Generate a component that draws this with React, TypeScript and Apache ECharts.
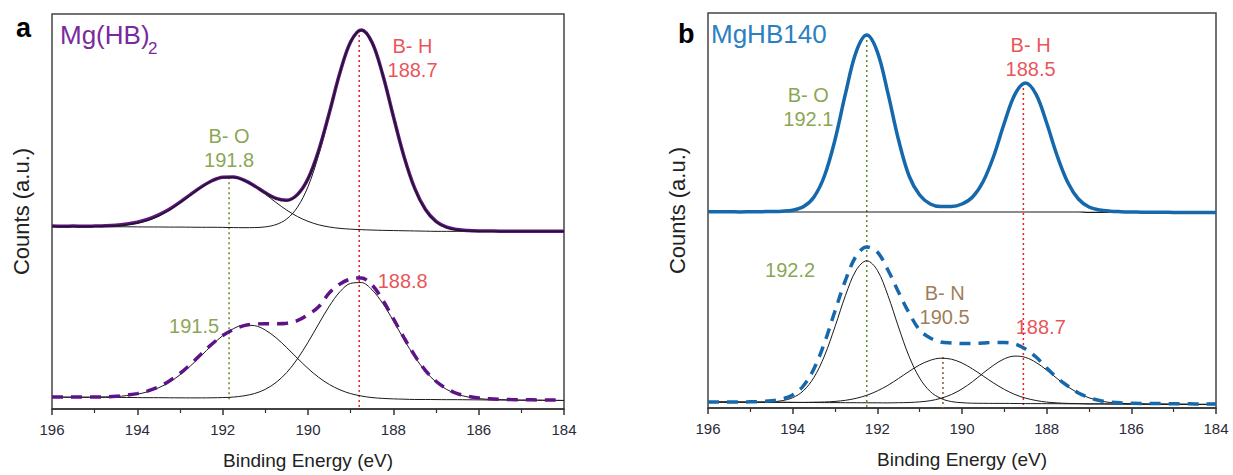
import React, { useEffect, useRef } from "react";
import * as echarts from "echarts";

const FONT = '"Liberation Sans", Arial, Helvetica, sans-serif';

// Binding energy sampling (eV), shared by all spectra
const energy = [196, 195.75, 195.5, 195.25, 195, 194.75, 194.5, 194.25, 194, 193.75, 193.5, 193.25, 193, 192.75, 192.5, 192.25, 192, 191.75, 191.5, 191.25, 191, 190.75, 190.5, 190.25, 190, 189.75, 189.5, 189.25, 189, 188.75, 188.5, 188.25, 188, 187.75, 187.5, 187.25, 187, 186.75, 186.5, 186.25, 186, 185.75, 185.5, 185.25, 185, 184.75, 184.5, 184.25, 184];
const xTicks = [196, 194, 192, 190, 188, 186, 184];

// ---- Panel a: Mg(HB)2 upper spectrum (offset) ----
const aUpBase = [184, 183.9, 183.9, 183.8, 183.8, 183.7, 183.6, 183.6, 183.5, 183.4, 183.4, 183.3, 183.3, 183.2, 183.1, 183.1, 183, 182.8, 182.6, 182.4, 182.2, 182, 181.8, 181.6, 181.4, 181.2, 181, 180.8, 180.6, 180.4, 180.2, 180, 179.8, 179.6, 179.4, 179.2, 179, 179, 179, 179, 179, 179, 179, 179, 179, 179, 179, 179, 179];
const aUpBO = [0, 0, 0, 0.1, 0.2, 0.5, 1.0, 2.1, 3.9, 6.9, 11.3, 17.2, 24.5, 32.6, 40.4, 46.7, 50.4, 50.7, 47.6, 41.8, 34.2, 26.1, 18.6, 12.4, 7.7, 4.4, 2.4, 1.2, 0.6, 0.3, 0.1, 0, 0, 0, 0, 0, 0, 0, 0, 0, 0, 0, 0, 0, 0, 0, 0, 0, 0];
const aUpBH = [0, 0, 0, 0, 0, 0, 0, 0, 0, 0, 0, 0, 0, 0, 0, 0, 0, 0, 0.1, 0.4, 1.3, 3.8, 9.6, 21.6, 42.6, 74.6, 115, 156.9, 188.9, 201, 188.9, 156.9, 115, 74.6, 42.6, 21.6, 9.6, 3.8, 1.3, 0.4, 0.1, 0, 0, 0, 0, 0, 0, 0, 0];
const aUpRaw = [184.5, 184.2, 184.3, 184.1, 184.3, 184.6, 185.2, 186.4, 188.2, 191.2, 195.6, 201.2, 208.4, 216.2, 223.8, 230.0, 233.6, 233.8, 230.6, 224.8, 217.8, 212.2, 210.4, 216.0, 232.0, 260.5, 298.5, 339.0, 370.0, 382.0, 369.5, 337.0, 295.0, 254.5, 222.5, 201.2, 189.0, 183.2, 180.8, 179.8, 179.4, 179.3, 179.2, 179.2, 179.1, 179.1, 179.0, 179.0, 179.0];

// ---- Panel a: lower spectrum ----
const aLoBase = [12, 11.9, 11.9, 11.8, 11.75, 11.7, 11.6, 11.6, 11.5, 11.4, 11.4, 11.3, 11.25, 11.2, 11.1, 11.1, 11, 10.9, 10.9, 10.8, 10.75, 10.7, 10.6, 10.6, 10.5, 10.4, 10.3, 10.2, 10.1, 10, 9.9, 9.9, 9.8, 9.7, 9.6, 9.6, 9.5, 9.4, 9.4, 9.3, 9.2, 9.1, 9.1, 9.0, 8.9, 8.9, 8.8, 8.7, 8.6];
const aLoBO = [0, 0, 0, 0.1, 0.2, 0.5, 0.9, 1.9, 3.4, 6.1, 10.0, 15.7, 23.2, 32.4, 42.7, 53.3, 62.9, 70.0, 73.6, 73.2, 68.8, 61.1, 51.3, 40.6, 30.4, 21.5, 14.4, 9.1, 5.4, 3.1, 1.6, 0.8, 0.4, 0.2, 0, 0, 0, 0, 0, 0, 0, 0, 0, 0, 0, 0, 0, 0, 0];
const aLoBH = [0, 0, 0, 0, 0, 0, 0, 0, 0, 0, 0, 0, 0, 0, 0.1, 0.2, 0.5, 1.1, 2.4, 4.8, 9.1, 16.0, 26.1, 39.8, 56.7, 75.3, 93.4, 108, 116.5, 117.4, 110.2, 96.6, 79.1, 60.4, 43, 28.6, 17.7, 10.3, 5.5, 2.8, 1.3, 0.6, 0.3, 0.1, 0, 0, 0, 0, 0];
const aLoRaw = [12.2, 12.1, 12.0, 12.0, 12.1, 12.3, 12.8, 14.0, 15.5, 18.3, 22.3, 28.2, 35.8, 45.2, 55.5, 65.5, 74.0, 80.0, 84.0, 85.5, 86.0, 86.0, 86.5, 89.0, 95.0, 103.0, 117.0, 126.0, 131.0, 132.0, 125.0, 110.0, 91.0, 72.0, 54.0, 39.0, 28.0, 20.5, 15.5, 12.8, 11.2, 10.3, 9.8, 9.5, 9.3, 9.2, 9.1, 9.0, 9.0];

// ---- Panel b: MgHB140 upper spectrum ----
const bUpBase = [196, 196, 196, 196, 196, 196, 196, 196, 196, 196, 196, 196, 196, 196, 196, 196, 196, 196, 196, 196, 196, 196, 196, 196, 196, 196, 196, 196, 196, 196, 196, 196, 196, 196, 196, 196, 195.6, 195.6, 195.6, 195.6, 195.6, 195.6, 195.6, 195.6, 195.6, 195.6, 195.6, 195.6, 195.6];
const bUpRaw = [196.3, 196.2, 196.3, 196.1, 196.2, 196.3, 196.5, 196.8, 197.8, 201.2, 210.8, 232.0, 268.2, 314.8, 356.2, 373.0, 356.2, 314.8, 268.2, 232.0, 213.0, 204.0, 201.5, 201.5, 204.0, 211.0, 226.5, 252.0, 285.0, 313.6, 325.0, 313.6, 285.0, 252.0, 225.5, 209.0, 201.0, 198.0, 196.8, 196.3, 196.0, 195.8, 195.7, 195.7, 195.6, 195.6, 195.6, 195.6, 195.6];

// ---- Panel b: lower spectrum ----
const bLoBase = [6.0, 6.0, 5.9, 5.9, 5.8, 5.8, 5.7, 5.7, 5.6, 5.5, 5.5, 5.4, 5.4, 5.3, 5.3, 5.2, 5.2, 5.1, 5.1, 5.0, 5.0, 4.9, 4.9, 4.8, 4.8, 4.7, 4.7, 4.6, 4.6, 4.5, 4.4, 4.4, 4.3, 4.3, 4.2, 4.2, 4.1, 4.1, 4.0, 4.0, 3.9, 3.9, 3.8, 3.8, 3.7, 3.7, 3.6, 3.6, 3.5];
const bLoBO = [0, 0, 0, 0, 0, 0.1, 0.5, 1.6, 4.7, 11.6, 24.9, 46.6, 75.9, 107.5, 132.5, 142, 132.5, 107.5, 75.9, 46.6, 24.9, 11.6, 4.7, 1.6, 0.5, 0.1, 0, 0, 0, 0, 0, 0, 0, 0, 0, 0, 0, 0, 0, 0, 0, 0, 0, 0, 0, 0, 0, 0, 0];
const bLoBN = [0, 0, 0, 0, 0, 0, 0, 0, 0, 0.1, 0.3, 0.6, 1.2, 2.4, 4.4, 7.5, 11.9, 17.6, 24.4, 31.6, 38.1, 42.8, 44.9, 44.0, 40.2, 34.3, 27.3, 20.3, 14.0, 9.0, 5.5, 3.1, 1.6, 0.8, 0.4, 0.2, 0, 0, 0, 0, 0, 0, 0, 0, 0, 0, 0, 0, 0];
const bLoBH = [0, 0, 0, 0, 0, 0, 0, 0, 0, 0, 0, 0, 0, 0, 0, 0, 0, 0, 0.2, 0.5, 1.1, 2.4, 4.8, 8.7, 14.3, 21.7, 30.2, 38.3, 44.6, 47.4, 46.2, 41.1, 33.6, 25.0, 17.1, 10.7, 6.1, 3.2, 1.5, 0.7, 0.3, 0.1, 0, 0, 0, 0, 0, 0, 0];
const bLoRaw = [6, 6, 6, 6, 6.2, 6.5, 7.2, 9, 13, 22, 39, 65, 97, 128, 152, 161, 156, 138, 116, 95, 78, 70, 66, 65, 64.5, 64.5, 65, 65.5, 65.5, 64, 59, 51, 40, 30, 22, 15, 10.5, 7.5, 6, 5.2, 4.8, 4.6, 4.5, 4.4, 4.3, 4.2, 4.1, 4.0, 4.0];

// ---- Peak position guide lines: [energy, top, bottom] ----
const aGuideEnergy = [191.85, 188.8];
const aGuideTop = [233.5, 382];
const aGuideBottom = [7, 0];
const bGuideEnergy = [192.25, 188.55, 190.45];
const bGuideTop = [373, 325, 51];
const bGuideBottom = [0, 0, 0];

// ---- Peak annotations: text and anchor (energy, height) ----
const aLabelText = ["B- O\n191.8", "B- H\n188.7", "191.5", "188.8"];
const aLabelEnergy = [191.85, 187.55, 192.67, 187.78];
const aLabelHeight = [263, 354, 84, 129];
const bLabelText = ["B- O\n192.1", "B- H\n188.5", "192.2", "B- N\n190.5", "188.7"];
const bLabelEnergy = [193.63, 188.38, 194.06, 190.41, 188.14];
const bLabelHeight = [301, 351, 138, 103, 81];

const GREEN = "#6b8e23";
const GREEN_LINE = "#5f8a22";
const RED = "#e3262b";
const RED_LINE = "#f01c1c";
const BROWN = "#85592c";
const PURPLE = "#5f1388";
const BLUE = "#1668ad";
const BLACK = "#1a1a1a";

const aGuideColor = [GREEN_LINE, RED_LINE];
const bGuideColor = [GREEN_LINE, RED_LINE, BROWN];
const aLabelColor = [GREEN, RED, GREEN, RED];
const bLabelColor = [GREEN, RED, GREEN, BROWN, RED];

const add = (...arrs: number[][]) => arrs[0].map((_, i) => arrs.reduce((s, a) => s + a[i], 0));
const pairs = (ys: number[]) => energy.map((x, i) => [x, ys[i]]);

function lineSeries(idx: number, ys: number[], color: string, width: number, dash?: any, z = 2) {
  return {
    type: "line",
    xAxisIndex: idx,
    yAxisIndex: idx,
    data: pairs(ys),
    showSymbol: false,
    symbol: "none",
    smooth: 0.35,
    silent: true,
    z,
    lineStyle: { color, width, type: dash || "solid", cap: "butt" },
  };
}

function guideSeries(idx: number, e: number[], top: number[], bottom: number[], colors: string[]) {
  return e.map((x, i) => ({
    type: "line",
    xAxisIndex: idx,
    yAxisIndex: idx,
    data: [[x, top[i]], [x, bottom[i]]],
    showSymbol: false,
    symbol: "none",
    silent: true,
    z: 1,
    lineStyle: { color: colors[i], width: 1.5, type: [2, 3] },
  }));
}

function labelSeries(idx: number, texts: string[], e: number[], h: number[], colors: string[]) {
  return {
    type: "scatter",
    xAxisIndex: idx,
    yAxisIndex: idx,
    symbolSize: 0,
    silent: true,
    z: 5,
    data: texts.map((t, i) => ({ value: [e[i], h[i]], name: t, label: { color: colors[i] } })),
    label: {
      show: true,
      position: "inside",
      formatter: "{b}",
      fontSize: 20,
      lineHeight: 24,
      fontFamily: FONT,
    },
  };
}

function xAxis(idx: number) {
  return {
    type: "value",
    gridIndex: idx,
    min: 184,
    max: 196,
    interval: 2,
    inverse: true,
    axisLine: { show: true, onZero: false, lineStyle: { color: "#333", width: 1.5 } },
    axisTick: { show: true, inside: false, length: 6, lineStyle: { color: "#333", width: 1.5 } },
    minorTick: { show: true, splitNumber: 2, length: 4, lineStyle: { color: "#333", width: 1.2 } },
    splitLine: { show: false },
    axisLabel: {
      fontSize: 15,
      color: "#2a2a3a",
      margin: 13,
      fontFamily: FONT,
      formatter: (v: number) => (xTicks.includes(v) ? String(v) : ""),
    },
    name: "Binding Energy (eV)",
    nameLocation: "middle",
    nameGap: 42,
    nameTextStyle: { fontSize: 19, color: "#222", fontFamily: FONT },
  };
}

function yAxis(idx: number, max: number) {
  return {
    type: "value",
    gridIndex: idx,
    min: 0,
    max,
    axisLine: { show: false },
    axisTick: { show: false },
    axisLabel: { show: false },
    splitLine: { show: false },
    name: "Counts (a.u.)",
    nameLocation: "middle",
    nameRotate: 90,
    nameGap: 20,
    nameTextStyle: { fontSize: 22, color: "#222", fontFamily: FONT },
  };
}

export default function App() {
  const ref = useRef<HTMLDivElement>(null);
  useEffect(() => {
    if (!ref.current) return;
    const chart = echarts.init(ref.current, undefined, { renderer: "svg" });
    const option: any = {
      animation: false,
      backgroundColor: "#ffffff",
      grid: [
        { left: 52, top: 14, width: 512, height: 398, show: true, borderColor: "#444", borderWidth: 1.5, backgroundColor: "transparent" },
        { left: 708, top: 13, width: 508, height: 395, show: true, borderColor: "#444", borderWidth: 1.5, backgroundColor: "transparent" },
      ],
      xAxis: [xAxis(0), xAxis(1)],
      yAxis: [yAxis(0, 398), yAxis(1, 395)],
      graphic: [
        { type: "text", left: 16, top: 14, style: { text: "a", font: `bold 27px ${FONT}`, fill: "#000" } },
        { type: "text", left: 678, top: 20, style: { text: "b", font: `bold 27px ${FONT}`, fill: "#000" } },
        { type: "text", left: 60, top: 22, style: { text: "Mg(HB)", font: `26px ${FONT}`, fill: "#7a2a9c" } },
        { type: "text", left: 148, top: 40, style: { text: "2", font: `17px ${FONT}`, fill: "#7a2a9c" } },
        { type: "text", left: 711, top: 21, style: { text: "MgHB140", font: `26px ${FONT}`, fill: "#2b80c2" } },
      ],
      series: [
        ...guideSeries(0, aGuideEnergy, aGuideTop, aGuideBottom, aGuideColor),
        lineSeries(0, add(aUpBase, aUpBO), BLACK, 1),
        lineSeries(0, add(aUpBase, aUpBH), BLACK, 1),
        lineSeries(0, aUpRaw, PURPLE, 3.5, undefined, 3),
        lineSeries(0, add(aUpBase, aUpBO, aUpBH), BLACK, 1.4, undefined, 4),
        lineSeries(0, add(aLoBase, aLoBO), BLACK, 1),
        lineSeries(0, add(aLoBase, aLoBH), BLACK, 1),
        lineSeries(0, aLoRaw, PURPLE, 3.5, [11, 8], 3),
        labelSeries(0, aLabelText, aLabelEnergy, aLabelHeight, aLabelColor),

        ...guideSeries(1, bGuideEnergy, bGuideTop, bGuideBottom, bGuideColor),
        lineSeries(1, bUpBase, BLACK, 1.2),
        lineSeries(1, bUpRaw, BLUE, 3.5, undefined, 3),
        lineSeries(1, add(bLoBase, bLoBO), BLACK, 1),
        lineSeries(1, add(bLoBase, bLoBN), BLACK, 1),
        lineSeries(1, add(bLoBase, bLoBH), BLACK, 1),
        lineSeries(1, bLoRaw, BLUE, 3.5, [11, 8], 3),
        labelSeries(1, bLabelText, bLabelEnergy, bLabelHeight, bLabelColor),
      ],
    };
    chart.setOption(option);
    return () => chart.dispose();
  }, []);
  return (
    <div
      ref={ref}
      style={{ position: "absolute", left: 0, top: 0, width: 1233, height: 475, background: "#fff" }}
    />
  );
}
